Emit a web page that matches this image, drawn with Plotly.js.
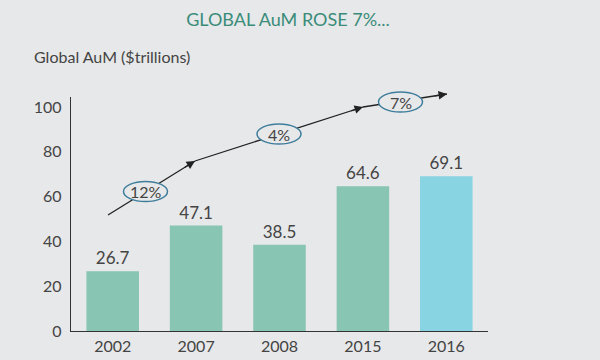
<!DOCTYPE html>
<html>
<head>
<meta charset="utf-8">
<script src="https://cdn.plot.ly/plotly-3.0.1.min.js"></script>
<style>html,body{margin:0;padding:0;background:#e7e8e9;}#chart{width:600px;height:360px;}</style>
</head>
<body>
<div id="chart"></div>
<script>
const years = ['2002', '2007', '2008', '2015', '2016'];
const aum = [26.7, 47.1, 38.5, 64.6, 69.1];
const valueLabels = ['26.7', '47.1', '38.5', '64.6', '69.1'];
const growthLabels = ['12%', '4%', '7%'];
const barColors = ['#88c5b2', '#88c5b2', '#88c5b2', '#88c5b2', '#88d4e2'];

const M = {l: 71, r: 112, t: 97, b: 29};
const W = 600 - M.l - M.r, H = 360 - M.t - M.b;
const px = x => (x - M.l) / W;
const py = y => (360 - M.b - y) / H;

const bg = '#e7e8e9';
const txt = '#444444';
const FONT = 'Lato, "Open Sans", sans-serif';

// growth arrow path (decoration) in pixel space
const path = [[108, 215], [195, 161], [363, 107], [447, 94]];
const ellipses = [[145.5, 191.5], [279, 134], [400.5, 102]];

const shapes = [];
for (let i = 0; i < path.length - 1; i++) {
  shapes.push({type: 'line', xref: 'paper', yref: 'paper',
    x0: px(path[i][0]), y0: py(path[i][1]), x1: px(path[i+1][0]), y1: py(path[i+1][1]),
    line: {color: '#222', width: 1.3}});
}
ellipses.forEach(c => {
  shapes.push({type: 'circle', xref: 'paper', yref: 'paper',
    x0: px(c[0] - 22), x1: px(c[0] + 22), y0: py(c[1] + 10), y1: py(c[1] - 10),
    fillcolor: bg, line: {color: '#3f7d9c', width: 1.5}});
});

const annotations = [];
for (let i = 1; i < path.length; i++) {
  const dx = path[i][0] - path[i-1][0], dy = path[i][1] - path[i-1][1];
  const len = Math.hypot(dx, dy);
  annotations.push({xref: 'paper', yref: 'paper', x: px(path[i][0]), y: py(path[i][1]),
    ax: -dx / len * 14, ay: -dy / len * 14, text: '', showarrow: true,
    arrowhead: 2, arrowsize: 1.3, arrowwidth: 1.3, arrowcolor: '#222'});
}
ellipses.forEach((c, i) => {
  annotations.push({xref: 'paper', yref: 'paper', x: px(c[0]), y: py(c[1]),
    xanchor: 'center', yanchor: 'middle',
    text: growthLabels[i], showarrow: false, font: {family: FONT, size: 16, color: txt}});
});
annotations.push({xref: 'paper', yref: 'paper', x: px(32), y: py(57), xanchor: 'left', yanchor: 'middle',
  text: 'Global AuM ($trillions)', showarrow: false, font: {family: FONT, size: 16, color: txt}});

const data = [{
  type: 'bar', x: years, y: aum, text: valueLabels, textposition: 'outside',
  textfont: {family: FONT, size: 17, color: txt}, cliponaxis: false,
  marker: {color: barColors}, hoverinfo: 'none'
}];

const layout = {
  width: 600, height: 360,
  margin: M,
  paper_bgcolor: bg, plot_bgcolor: bg,
  showlegend: false,
  bargap: 0.37,
  title: {text: 'GLOBAL AuM ROSE 7%...', x: 288/600, xanchor: 'center', y: 1 - 20/360, yanchor: 'middle',
    font: {family: FONT, size: 18, color: '#3a8c79'}},
  xaxis: {type: 'category', showline: true, linecolor: '#333', linewidth: 1.3, ticks: '',
    tickfont: {family: FONT, size: 16, color: txt}, showgrid: false, zeroline: false, fixedrange: true},
  yaxis: {range: [0, 104.5], tickvals: [0, 20, 40, 60, 80, 100], showline: true, linecolor: '#333', linewidth: 1.3,
    ticks: '', ticklabelstandoff: 5, tickfont: {family: FONT, size: 16, color: txt}, showgrid: false, zeroline: false, fixedrange: true},
  shapes: shapes,
  annotations: annotations
};

Plotly.newPlot('chart', data, layout, {displayModeBar: false, staticPlot: true});
</script>
</body>
</html>
